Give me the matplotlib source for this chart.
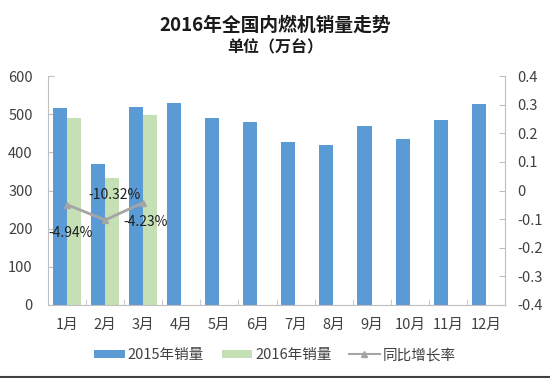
import matplotlib
matplotlib.use("Agg")
import matplotlib.pyplot as plt
import numpy as np
from matplotlib.lines import Line2D

plt.rcParams['font.family'] = ['Noto Sans CJK SC', 'DejaVu Sans']

months = ["1月", "2月", "3月", "4月", "5月", "6月", "7月", "8月", "9月", "10月", "11月", "12月"]
sales_2015 = [515, 370, 520, 530, 489, 479, 428, 419, 470, 436, 486, 527]
sales_2016 = [491, 333, 498]
growth = [-0.0494, -0.1032, -0.0423]
growth_labels = ["-4.94%", "-10.32%", "-4.23%"]

blue = "#5B9BD5"
green = "#C5E0B4"
gray = "#A5A5A5"
axis_gray = "#BFBFBF"
text_col = "#404040"

fig = plt.figure(figsize=(5.5, 3.78), dpi=100)
ax = fig.add_axes([48/550, 1-305/378, (505-48)/550, (305-76)/378])

x = np.arange(len(months))
w = 0.37
ax.bar(x - w/2 - 0.005, sales_2015, width=w, color=blue, label="2015年销量", zorder=2)
ax.bar(x[:len(sales_2016)] + w/2 + 0.005, sales_2016, width=w, color=green, label="2016年销量", zorder=2)

ax.set_xlim(-0.5, len(months) - 0.5)
ax.set_ylim(0, 600)
ax.set_yticks(range(0, 601, 100))
ax.set_xticks(x)
ax.set_xticklabels(months)
ax.set_xticks(np.arange(-0.5, len(months), 1), minor=True)
ax.tick_params(axis='x', which='major', length=0, labelsize=10.5, colors=text_col, pad=9)
ax.tick_params(axis='x', which='minor', length=4, direction='in', color=axis_gray)
ax.tick_params(axis='y', direction='in', length=4, color=axis_gray, labelsize=10.5, labelcolor=text_col, pad=11)
for s in ['top', 'right']:
    ax.spines[s].set_visible(False)
for s in ['left', 'bottom']:
    ax.spines[s].set_color(axis_gray)

ax2 = ax.twinx()
ax2.set_ylim(-0.4, 0.4)
ax2.set_yticks(np.round(np.arange(-0.4, 0.41, 0.1), 1))
ax2.set_yticklabels(["-0.4", "-0.3", "-0.2", "-0.1", "0", "0.1", "0.2", "0.3", "0.4"])
ax2.tick_params(axis='y', direction='in', length=4, color=axis_gray, labelsize=10.5, labelcolor=text_col, pad=9)
for s in ['top', 'left', 'bottom']:
    ax2.spines[s].set_visible(False)
ax2.spines['right'].set_color(axis_gray)
ln, = ax2.plot(x[:len(growth)], growth, color=gray, linewidth=2, marker='^', markersize=5,
               label="同比增长率", zorder=3)

offsets = [(0.08, -0.099), (0.24, 0.0875), (0.05, -0.068)]
for i, (g, lab) in enumerate(zip(growth, growth_labels)):
    dx, dy = offsets[i]
    ax2.text(x[i] + dx, g + dy, lab, fontsize=10, color="#202020", ha='center', va='center', zorder=4)

fig.text(0.5, 1-25/378, "2016年全国内燃机销量走势", ha='center', va='center', fontsize=13.5,
         fontweight='bold', color="#1a1a1a")
fig.text(0.5, 1-47/378, "单位（万台）", ha='center', va='center', fontsize=11.5,
         fontweight='bold', color="#1a1a1a")

h1, l1 = ax.get_legend_handles_labels()
handles = h1 + [Line2D([0], [0], color=gray, linewidth=1.5, marker='^', markersize=4)]
labels = l1 + ["同比增长率"]
fig.legend(handles, labels, loc='center', bbox_to_anchor=(0.5, 1-355/378), ncol=3, frameon=False,
           fontsize=10.5, handlelength=2.1, handleheight=0.5, columnspacing=1.2, handletextpad=0.2,
           labelcolor=text_col)

fig.add_artist(Line2D([0, 1], [1-376.5/378, 1-376.5/378], color="#404040", linewidth=1.5,
                      transform=fig.transFigure))

fig.savefig("out.png", dpi=100)
